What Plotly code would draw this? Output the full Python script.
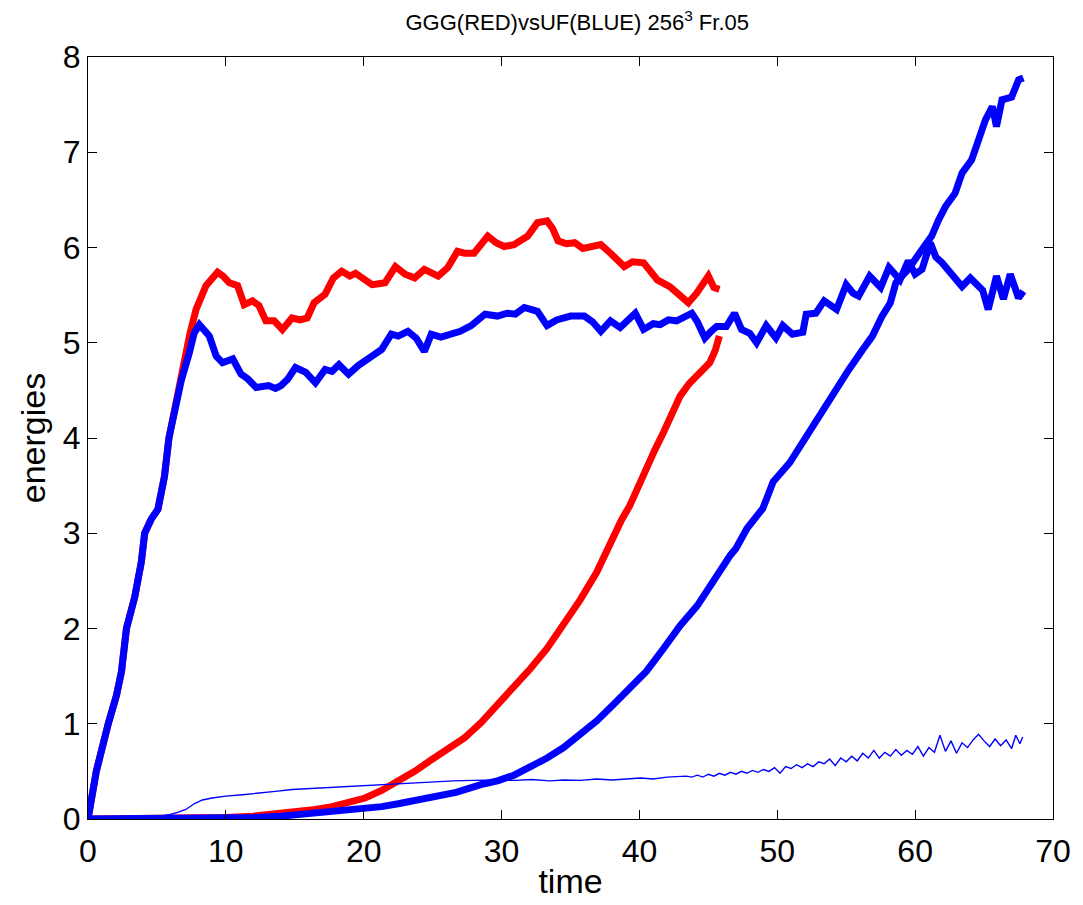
import plotly.graph_objects as go

# Red (GGG) kinetic-like energy
red1_t = [0, 0.6, 1.47, 2.07, 2.43, 2.79, 3.39, 3.87, 4.11, 4.59, 5.07, 5.55, 5.87, 6.28, 6.6, 7.0, 7.4, 7.84,
          8.56, 9.4, 9.8, 10.25, 10.85, 11.33, 11.93, 12.4, 12.9, 13.5, 14.1, 14.8, 15.4, 15.9, 16.4, 17.2, 17.8,
          18.4, 19.0, 19.4, 20.0, 20.6, 21.1, 21.55, 22.3, 23.0, 23.7, 24.4, 25.4, 26.1, 26.8, 27.3, 28.0, 28.5,
          29.0, 29.6, 30.2, 30.9, 31.4, 31.9, 32.6, 33.3, 33.7, 34.1, 34.7, 35.3, 35.9, 36.5, 37.2, 37.9, 38.4,
          38.9, 39.5, 40.3, 40.8, 41.3, 42.2, 42.95, 43.55, 44.15, 44.6, 45.0, 45.4, 45.8]
red1_e = [0, 0.5, 1.0, 1.3, 1.55, 2.0, 2.33, 2.7, 3.0, 3.15, 3.25, 3.6, 4.0, 4.3, 4.5, 4.85, 5.1, 5.35,
          5.6, 5.74, 5.70, 5.63, 5.60, 5.40, 5.44, 5.39, 5.23, 5.23, 5.14, 5.26, 5.24, 5.26, 5.42, 5.51, 5.68,
          5.75, 5.70, 5.73, 5.66, 5.61, 5.62, 5.63, 5.80, 5.72, 5.68, 5.77, 5.70, 5.79, 5.96, 5.94, 5.94, 6.02,
          6.12, 6.05, 6.01, 6.03, 6.08, 6.12, 6.26, 6.28, 6.20, 6.07, 6.04, 6.05, 5.99, 6.01, 6.03, 5.94, 5.88,
          5.80, 5.85, 5.84, 5.75, 5.66, 5.59, 5.49, 5.42, 5.52, 5.60, 5.70, 5.58, 5.56]

# Red (GGG) second energy
red2_t = [0, 5, 8, 10, 12, 14, 15.3, 16.5, 17.7, 18.9, 20.1, 21.3, 22.5, 23.7, 24.9, 26.1, 27.3, 28.5, 29.7,
          30.9, 32.1, 33.3, 34.5, 35.7, 36.9, 37.5, 38.1, 38.7, 39.3, 39.9, 40.5, 41.1, 41.75, 42.35, 42.95,
          43.6, 44.2, 44.7, 45.1, 45.5, 45.8]
red2_e = [0, 0.0, 0.005, 0.015, 0.03, 0.055, 0.08, 0.10, 0.13, 0.17, 0.22, 0.30, 0.39, 0.50, 0.62, 0.73, 0.85,
          1.01, 1.20, 1.38, 1.58, 1.79, 2.03, 2.30, 2.59, 2.78, 2.98, 3.14, 3.29, 3.49, 3.68, 3.87, 4.06, 4.27,
          4.44, 4.57, 4.65, 4.72, 4.79, 4.92, 5.07]

# Blue (UF) kinetic-like energy
blue1_t = [0, 0.6, 1.47, 2.07, 2.43, 2.79, 3.39, 3.87, 4.11, 4.59, 5.07, 5.55, 5.87, 6.28, 6.76, 7.36, 7.7, 8.08,
           8.8, 9.3, 9.76, 10.5, 11.1, 11.6, 12.2, 13.1, 13.6, 14.0, 14.5, 15.05, 15.8, 16.5, 17.2, 17.7, 18.2,
           18.9, 19.6, 20.6, 21.3, 22.0, 22.5, 23.2, 23.8, 24.4, 24.9, 25.6, 26.35, 27.0, 27.8, 28.8, 29.7, 30.4,
           31.0, 31.65, 32.6, 33.3, 34.0, 35.0, 36.0, 36.6, 37.2, 37.9, 38.6, 39.2, 39.7, 40.3, 41.0, 41.5, 42.1,
           42.7, 43.3, 43.8, 44.2, 44.75, 45.2, 45.6, 46.3, 46.9, 47.4, 48.0, 48.5, 49.2, 49.9, 50.4, 51.1, 51.85,
           52.1, 52.8, 53.4, 54.3, 55.0, 55.5, 55.9, 56.7, 57.5, 58.1, 58.9, 59.5, 60.0, 60.5, 61.1, 61.5, 61.95,
           62.3, 62.7, 63.4, 64.0, 64.4, 64.9, 65.3, 65.9, 66.4, 66.9, 67.5, 67.85]
blue1_e = [0, 0.5, 1.0, 1.3, 1.55, 2.0, 2.33, 2.7, 3.0, 3.15, 3.25, 3.6, 4.0, 4.3, 4.6, 4.9, 5.1, 5.19,
           5.07, 4.86, 4.79, 4.83, 4.67, 4.62, 4.53, 4.55, 4.52, 4.55, 4.62, 4.74, 4.69, 4.58, 4.72, 4.70, 4.77,
           4.67, 4.76, 4.86, 4.93, 5.09, 5.07, 5.12, 5.05, 4.91, 5.09, 5.06, 5.09, 5.12, 5.18, 5.30, 5.28, 5.31,
           5.30, 5.37, 5.33, 5.18, 5.24, 5.28, 5.28, 5.22, 5.12, 5.23, 5.16, 5.24, 5.31, 5.14, 5.20, 5.19, 5.24,
           5.23, 5.27, 5.31, 5.22, 5.05, 5.12, 5.17, 5.17, 5.31, 5.14, 5.10, 5.00, 5.18, 5.05, 5.18, 5.09, 5.11,
           5.30, 5.31, 5.44, 5.35, 5.61, 5.52, 5.49, 5.70, 5.58, 5.79, 5.66, 5.86, 5.72, 5.77, 6.05, 5.90, 5.84,
           5.78, 5.70, 5.59, 5.68, 5.63, 5.55, 5.35, 5.70, 5.46, 5.72, 5.47, 5.54]

# Blue (UF) second energy
blue2_t = [0, 5, 8, 10, 12, 14, 15.3, 16.5, 17.7, 18.9, 20.1, 21.3, 22.5, 23.7, 24.9, 26.7, 28.5, 29.7, 30.9,
           32.1, 33.3, 34.5, 35.7, 36.9, 38.1, 39.3, 40.5, 41.75, 42.95, 44.2, 45.4, 46.6, 47.0, 47.8, 48.95, 49.7,
           50.9, 52.1, 53.3, 54.3, 55.2, 56.2, 56.9, 57.6, 58.2, 58.6, 59.5, 60.5, 61.2, 61.7, 62.2, 62.9, 63.4,
           64.1, 64.6, 65.1, 65.6, 65.9, 66.3, 67.0, 67.5, 67.85]
blue2_e = [0, 0.0, 0.003, 0.008, 0.015, 0.03, 0.045, 0.06, 0.075, 0.09, 0.11, 0.13, 0.16, 0.19, 0.22, 0.28,
           0.36, 0.40, 0.46, 0.54, 0.64, 0.75, 0.88, 1.03, 1.20, 1.37, 1.55, 1.79, 2.03, 2.24, 2.52, 2.77, 2.84,
           3.05, 3.26, 3.54, 3.74, 4.02, 4.27, 4.51, 4.72, 4.93, 5.07, 5.28, 5.42, 5.63, 5.77, 5.98, 6.12, 6.29,
           6.43, 6.57, 6.78, 6.92, 7.13, 7.34, 7.48, 7.27, 7.55, 7.58, 7.76, 7.78]

# Blue (UF) thin curve
blue3_t = [0, 2, 4, 5, 5.9, 6.5, 7.1, 7.7, 8.3, 9.0, 10.0, 11.2, 12.4, 13.6, 14.8, 16.0, 17.2, 18.4, 19.6, 20.8,
           22.0, 23.5, 24.9, 26.5, 28.0, 29.7, 31.0, 32.2, 33.5, 34.5, 35.7, 36.9, 38.0, 39.3, 40.1, 41.0, 42.0,
           43.4, 43.8, 44.2, 44.6, 45.0, 45.4, 45.8, 46.2, 46.6, 47.0, 47.4, 47.8, 48.2, 48.6, 49.0, 49.4, 49.8,
           50.2, 50.6, 51.0, 51.4, 51.8, 52.2, 52.6, 53.0, 53.4, 53.8, 54.2, 54.6, 55.0, 55.4, 55.8, 56.2, 56.6,
           57.0, 57.4, 57.8, 58.2, 58.6, 59.0, 59.4, 59.8, 60.2, 60.6, 61.0, 61.4, 61.8, 62.2, 62.6, 63.0, 63.4,
           63.8, 64.2, 64.6, 65.0, 65.4, 65.8, 66.2, 66.6, 67.0, 67.3, 67.6, 67.8]
blue3_e = [0, 0.002, 0.01, 0.025, 0.045, 0.07, 0.1, 0.16, 0.2, 0.22, 0.24, 0.255, 0.27, 0.29, 0.31, 0.32, 0.33,
           0.34, 0.35, 0.36, 0.37, 0.38, 0.39, 0.40, 0.405, 0.41, 0.405, 0.415, 0.40, 0.41, 0.405, 0.42, 0.41,
           0.42, 0.43, 0.42, 0.44, 0.45, 0.44, 0.46, 0.44, 0.47, 0.45, 0.48, 0.46, 0.49, 0.47, 0.50, 0.48, 0.51,
           0.49, 0.52, 0.50, 0.54, 0.48, 0.55, 0.53, 0.57, 0.54, 0.58, 0.55, 0.60, 0.58, 0.63, 0.56, 0.64, 0.60,
           0.66, 0.61, 0.69, 0.64, 0.72, 0.64, 0.70, 0.66, 0.73, 0.67, 0.72, 0.68, 0.76, 0.66, 0.75, 0.70, 0.88,
           0.71, 0.82, 0.69, 0.80, 0.75, 0.83, 0.89, 0.82, 0.76, 0.84, 0.77, 0.83, 0.74, 0.88, 0.79, 0.86]

x_ticks = [0, 10, 20, 30, 40, 50, 60, 70]
y_ticks = [0, 1, 2, 3, 4, 5, 6, 7, 8]

RED = "#ff0000"
BLUE = "#0000ff"
THICK = 7

fig = go.Figure()
fig.add_trace(go.Scatter(x=red1_t, y=red1_e, mode="lines", line=dict(color=RED, width=THICK)))
fig.add_trace(go.Scatter(x=red2_t, y=red2_e, mode="lines", line=dict(color=RED, width=THICK)))
fig.add_trace(go.Scatter(x=blue3_t, y=blue3_e, mode="lines", line=dict(color=BLUE, width=1.4)))
fig.add_trace(go.Scatter(x=blue1_t, y=blue1_e, mode="lines", line=dict(color=BLUE, width=THICK)))
fig.add_trace(go.Scatter(x=blue2_t, y=blue2_e, mode="lines", line=dict(color=BLUE, width=THICK)))

FONT = "Liberation Sans, Arial, Helvetica, sans-serif"
axis_common = dict(
    showline=True, linecolor="black", linewidth=1, mirror="allticks",
    ticks="inside", ticklen=9, tickwidth=1, tickcolor="black",
    showgrid=False, zeroline=False,
    tickfont=dict(family=FONT, size=32, color="black"),
)

fig.update_layout(
    width=1083, height=905,
    margin=dict(l=88, r=25, t=57, b=84),
    paper_bgcolor="white", plot_bgcolor="white",
    showlegend=False,
    title=dict(text="GGG(RED)vsUF(BLUE) 256<sup>3</sup> Fr.05", x=0.533, xanchor="center",
               y=0.975, yanchor="middle", font=dict(family=FONT, size=22, color="black")),
    xaxis=dict(range=[0, 70], tickvals=x_ticks, ticktext=[str(v) for v in x_ticks],
               ticklabelstandoff=4,
               title=dict(text="time", font=dict(family=FONT, size=34, color="black"), standoff=0),
               **axis_common),
    yaxis=dict(range=[0, 8], tickvals=y_ticks, ticktext=[str(v) for v in y_ticks],
               title=dict(text="energies", font=dict(family=FONT, size=34, color="black"), standoff=6),
               **axis_common),
)

fig.write_html("out.html")
